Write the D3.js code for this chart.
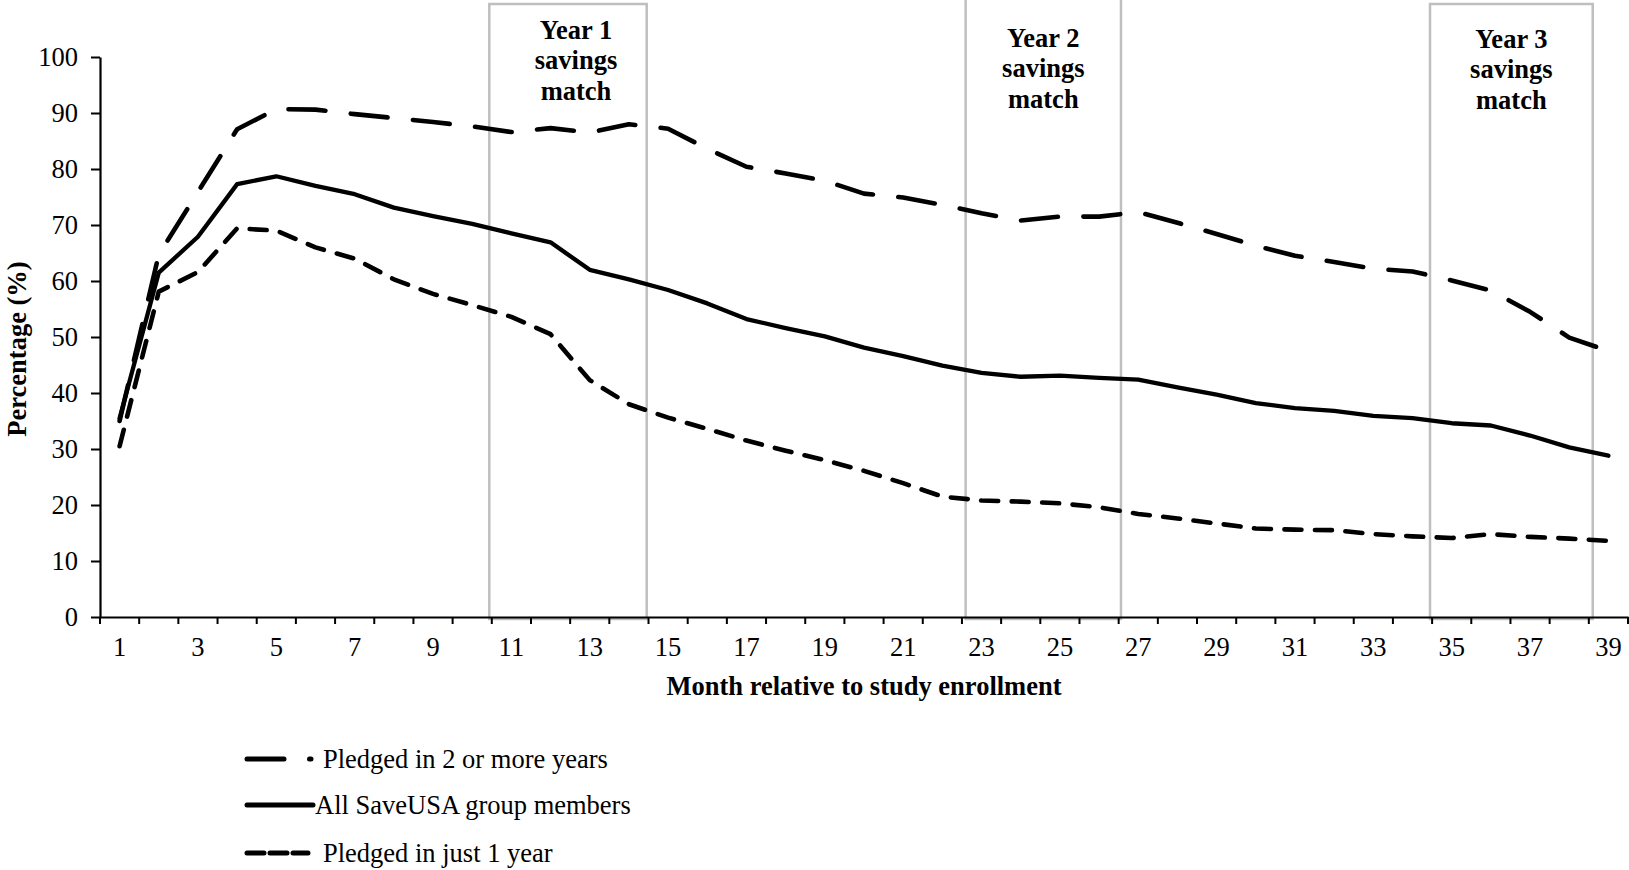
<!DOCTYPE html>
<html>
<head>
<meta charset="utf-8">
<script src="https://cdn.jsdelivr.net/npm/d3@7"></script>
<style>
  html, body { margin: 0; padding: 0; background: #fff; }
  svg { display: block; }
  text { font-family: "Liberation Serif", "Times New Roman", serif; fill: #000; }
</style>
</head>
<body>
<svg id="chart" width="1629" height="870"></svg>
<script>
// ---------- data ----------
const months = d3.range(1, 40);
const yTicks = [0, 10, 20, 30, 40, 50, 60, 70, 80, 90, 100];
const xLabelMonths = months.filter(m => m % 2 === 1);

const seriesNames = ["Pledged in 2 or more years", "All SaveUSA group members", "Pledged in just 1 year"];

const pledged2Plus = [35.0, 64.7, 75.9, 87.1, 90.7, 90.6, 89.8, 89.1, 88.4, 87.6, 86.6, 87.3, 86.5, 88.0, 87.2,
  83.6, 80.4, 79.2, 77.9, 75.6, 74.9, 73.6, 72.1, 70.8, 71.5, 71.5, 72.3, 70.4, 68.4, 66.3,
  64.5, 63.4, 62.2, 61.7, 60.1, 58.3, 54.5, 49.9, 47.5];
const allMembers = [35.5, 61.5, 67.9, 77.3, 78.7, 77.0, 75.5, 73.1, 71.6, 70.2, 68.5, 66.9, 62.0, 60.3, 58.4,
  56.0, 53.2, 51.6, 50.1, 48.1, 46.6, 44.9, 43.6, 42.9, 43.1, 42.7, 42.4, 41.0, 39.7, 38.2,
  37.3, 36.8, 35.9, 35.5, 34.6, 34.2, 32.4, 30.3, 28.8];
const pledged1 = [30.5, 58.1, 61.6, 69.4, 69.0, 66.0, 64.0, 60.3, 57.7, 55.7, 53.6, 50.5, 42.3, 38.0, 35.6,
  33.6, 31.5, 29.7, 28.0, 26.1, 23.9, 21.5, 20.8, 20.6, 20.3, 19.6, 18.4, 17.6, 16.7, 15.8,
  15.6, 15.5, 14.8, 14.4, 14.1, 14.8, 14.3, 14.0, 13.6];

const matchStart = [11, 23, 35];
const matchEnd = [14, 26, 38];
const matchLabels = [["Year 1", "savings", "match"], ["Year 2", "savings", "match"], ["Year 3", "savings", "match"]];

// ---------- layout ----------
const svg = d3.select("#chart");
const plotLeft = 100, plotRight = 1628, plotTop = 57, plotBottom = 617;
const FS = 26.5;

const x = d3.scaleBand().domain(months).range([plotLeft, plotRight]).padding(0);
const y = d3.scaleLinear().domain([0, 100]).range([plotBottom, plotTop]);
const cx = m => x(m) + x.bandwidth() / 2;

// ---------- savings-match boxes (hand-drawn annotation boxes, slightly off the grid) ----------
const boxTop = [4, -4, 4];
const boxLeftAdj = [-2.5, 3.7, -2.1];
const boxRightAdj = [-1.8, 2.3, 3.9];
const labelTop = [39, 47, 48];
const labelDx = [8, 0, 0];
matchStart.forEach((s, i) => {
  const x0 = x(s) + boxLeftAdj[i], x1 = x(matchEnd[i]) + x.bandwidth() + boxRightAdj[i];
  svg.append("rect")
    .attr("x", x0).attr("y", boxTop[i])
    .attr("width", x1 - x0).attr("height", plotBottom + 2 - boxTop[i])
    .attr("fill", "none").attr("stroke", "#bfbfbf").attr("stroke-width", 2.5);
  const t = svg.append("text")
    .attr("text-anchor", "middle")
    .attr("font-weight", "bold")
    .attr("font-size", FS);
  matchLabels[i].forEach((ln, j) => {
    t.append("tspan").attr("x", (x0 + x1) / 2 + labelDx[i]).attr("y", labelTop[i] + j * 30.3).text(ln);
  });
});

// ---------- axes ----------
const yAxis = d3.axisLeft(y).tickValues(yTicks).tickSize(9).tickPadding(13).tickSizeOuter(0);
const gy = svg.append("g").attr("transform", `translate(${plotLeft},0)`).call(yAxis);
gy.selectAll("text").attr("font-size", FS).attr("font-family", "Liberation Serif");
gy.selectAll("line").attr("stroke", "#000").attr("stroke-width", 2);
gy.select(".domain").attr("stroke", "#000").attr("stroke-width", 2.2);

const xAxis = d3.axisBottom(x).tickValues(xLabelMonths).tickSize(0).tickPadding(20).tickSizeOuter(0);
const gx = svg.append("g").attr("transform", `translate(0,${plotBottom})`).call(xAxis);
gx.selectAll("text").attr("font-size", FS).attr("font-family", "Liberation Serif");
gx.select(".domain").attr("stroke", "#000").attr("stroke-width", 2.2);
// boundary ticks between month categories
const boundaries = months.map(m => x(m)).concat([plotRight]);
gx.selectAll("line.bt").data(boundaries).enter().append("line")
  .attr("class", "bt")
  .attr("x1", d => d).attr("x2", d => d)
  .attr("y1", 0).attr("y2", 7)
  .attr("stroke", "#000").attr("stroke-width", 2);

// axis titles
svg.append("text")
  .attr("x", (plotLeft + plotRight) / 2).attr("y", 695)
  .attr("text-anchor", "middle").attr("font-weight", "bold").attr("font-size", FS)
  .text("Month relative to study enrollment");
svg.append("text")
  .attr("transform", "translate(26,349) rotate(-90)")
  .attr("text-anchor", "middle").attr("font-weight", "bold").attr("font-size", FS)
  .text("Percentage (%)");

// ---------- lines ----------
const styles = [
  { dash: "37,25.5", width: 4.6 },
  { dash: null, width: 4.3 },
  { dash: "17,13.5", width: 4.6 }
];
const allSeries = [pledged2Plus, allMembers, pledged1];
const lineGen = d3.line().x((d, i) => cx(months[i])).y(d => y(d));

allSeries.forEach((vals, k) => {
  const p = svg.append("path")
    .attr("d", lineGen(vals))
    .attr("fill", "none")
    .attr("stroke", "#000")
    .attr("stroke-width", styles[k].width)
    .attr("stroke-linejoin", "round")
    .attr("stroke-linecap", "round");
  if (styles[k].dash) p.attr("stroke-dasharray", styles[k].dash);
});

// ---------- legend ----------
const legY = [759, 805, 853];
const legX0 = 247;
const legLen = [64, 66, 61];
const legTextX = [323, 315, 323];
const legDash = ["37,25.5", null, "17,6"];
seriesNames.forEach((name, k) => {
  const l = svg.append("line")
    .attr("x1", legX0).attr("x2", legX0 + legLen[k])
    .attr("y1", legY[k]).attr("y2", legY[k])
    .attr("stroke", "#000").attr("stroke-width", 5)
    .attr("stroke-linecap", "round");
  if (legDash[k]) l.attr("stroke-dasharray", legDash[k]);
  svg.append("text")
    .attr("x", legTextX[k]).attr("y", legY[k] + 9)
    .attr("font-size", FS)
    .text(name);
});
</script>
</body>
</html>
